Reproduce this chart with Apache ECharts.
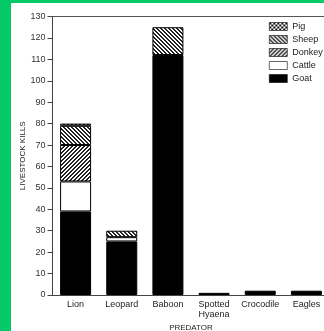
<!DOCTYPE html>
<html>
<head>
<meta charset="utf-8">
<script src="https://cdn.jsdelivr.net/npm/echarts@6/dist/echarts.min.js"></script>
<style>
  html, body { margin: 0; padding: 0; background: #03c967; width: 324px; height: 331px; overflow: hidden; }
  #chart { position: absolute; left: 11px; top: 3px; width: 313px; height: 328px; background: #fff; }
</style>
</head>
<body>
<div id="chart"></div>
<script>
// Livestock killed by each predator, split by livestock type
const predators = ['Lion', 'Leopard', 'Baboon', 'Spotted\nHyaena', 'Crocodile', 'Eagles'];
const goat   = [39, 25, 112, 1, 2, 2];
const cattle = [14, 2, 0, 0, 0, 0];
const donkey = [17, 0, 0, 0, 0, 0];
const sheep  = [9, 3, 13, 0, 0, 0];
const pig    = [1, 0, 0, 0, 0, 0];
const yTicks = { min: 0, max: 130, step: 10 };

// Pixel-exact fill patterns for the hatched livestock types
function hatch(size, forward) {
  const c = document.createElement('canvas');
  c.width = size; c.height = size;
  const g = c.getContext('2d');
  g.fillStyle = '#fff'; g.fillRect(0, 0, size, size);
  g.fillStyle = '#222';
  for (let i = 0; i < size; i++) {
    const x = forward ? (size - 1 - i) : i;
    g.fillRect(x, i, 1, 1);
    g.fillRect((x + 1) % size, i, 1, 1);
  }
  return { image: c, repeat: 'repeat' };
}
function checker() {
  const c = document.createElement('canvas');
  c.width = 4; c.height = 4;
  const g = c.getContext('2d');
  g.fillStyle = '#fff'; g.fillRect(0, 0, 4, 4);
  g.fillStyle = '#111'; g.fillRect(0, 0, 2, 2); g.fillRect(2, 2, 2, 2);
  return { image: c, repeat: 'repeat' };
}

const layers = [
  { name: 'Goat', values: goat, fill: '#000' },
  { name: 'Cattle', values: cattle, fill: '#fff' },
  { name: 'Donkey', values: donkey, fill: hatch(4, true) },
  { name: 'Sheep', values: sheep, fill: hatch(4, false) },
  { name: 'Pig', values: pig, fill: checker() }
];

const chart = echarts.init(document.getElementById('chart'));
const font = 'Liberation Sans, Arial, sans-serif';
chart.setOption({
  animation: false,
  textStyle: { fontFamily: font },
  // the plot runs past the right edge of the page; keep the grid exactly where it is placed
  grid: { left: 41.5, top: 13.5, width: 277, height: 278.5, outerBoundsMode: 'none', containLabel: false },
  legend: {
    data: ['Pig', 'Sheep', 'Donkey', 'Cattle', 'Goat'],
    orient: 'vertical', left: 253, top: 14,
    icon: 'rect', itemWidth: 18, itemHeight: 8, itemGap: 4,
    itemStyle: { borderWidth: 0.6, borderColor: '#000' },
    textStyle: { fontSize: 9, color: '#222', fontFamily: font }
  },
  xAxis: [{
    type: 'category', data: predators,
    name: 'PREDATOR', nameLocation: 'middle', nameGap: 29, nameMoveOverlap: false,
    nameTextStyle: { fontSize: 8, color: '#222' },
    axisLine: { lineStyle: { color: '#444', width: 1 } },
    axisTick: { show: false },
    axisLabel: { fontSize: 9, color: '#222', margin: 5, lineHeight: 10, interval: 0 }
  }, {
    type: 'category', data: predators, position: 'top',
    axisLine: { lineStyle: { color: '#555', width: 1 } },
    axisTick: { show: false }, axisLabel: { show: false }
  }],
  yAxis: {
    type: 'value', min: yTicks.min, max: yTicks.max, interval: yTicks.step,
    name: 'LIVESTOCK KILLS', nameLocation: 'middle', nameGap: 26, nameMoveOverlap: false,
    nameTextStyle: { fontSize: 8, color: '#222' },
    axisLine: { show: true, lineStyle: { color: '#444', width: 1 } },
    axisTick: { show: true, length: 5, lineStyle: { color: '#444' } },
    axisLabel: { fontSize: 9, color: '#333', margin: 7 },
    splitLine: { show: false }
  },
  series: layers.map(l => ({
    name: l.name, type: 'bar', stack: 'kills', barWidth: 31,
    data: l.values.map(v => (v ? v : '-')),
    itemStyle: { color: l.fill, borderColor: '#000', borderWidth: 1 }
  }))
});
</script>
</body>
</html>
